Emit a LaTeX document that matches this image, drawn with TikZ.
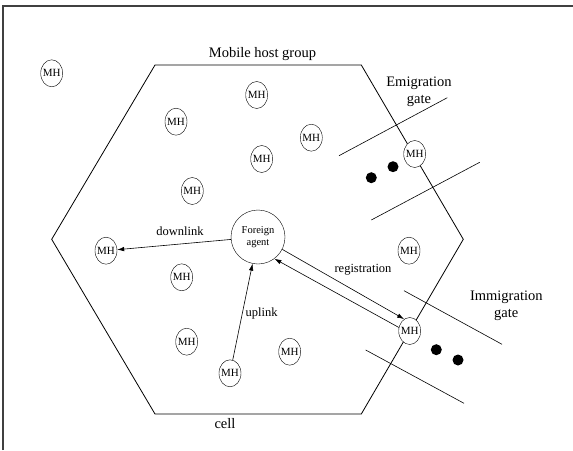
\documentclass[tikz,border=0pt]{standalone}
\usepackage{fontspec}
\setmainfont{Liberation Serif}
\usetikzlibrary{arrows.meta,shapes.geometric}

\tikzset{
	mh/.style={ellipse, draw, fill=white, inner xsep=-1.5pt, inner ysep=0pt, minimum width=22pt, minimum height=27pt, font=\fontsize{11}{11}\selectfont},
	agent/.style={circle, draw, fill=white, minimum size=54pt, inner sep=0pt, align=center, font=\fontsize{10.5}{11.5}\selectfont},
	link/.style={-{Latex[length=7pt,width=4.5pt]}, line width=0.6pt},
	biglabel/.style={font=\fontsize{14.5}{17}\selectfont, align=center},
	linklabel/.style={font=\fontsize{12.5}{14}\selectfont},
	gate/.style={line width=0.6pt}
}

\begin{document}
\begin{tikzpicture}[x=1pt, y=-1pt]
	\useasboundingbox (0,0) rectangle (573,450);
	\draw [line width=1.2pt, black!75] (3,450) -- (3,6) -- (573,6);
	
	\draw [line width=0.8pt] (155,65) -- (361.3,65) -- (463.3,239.3) -- (361.3,414) -- (155,414) -- (51.7,239.3) -- cycle;
	\draw [gate] (339,155.7) -- (447.3,97.7);
	\draw [gate] (371.3,220) -- (479.7,162.3);
	\draw [gate] (404,290.7) -- (502,344.3);
	\draw [gate] (365.7,350) -- (464,403.3);
	
	\fill (371.3,177.7) circle (5.5pt);
	\fill (393,166.7) circle (5.5pt);
	\fill (436.3,349.7) circle (5.5pt);
	\fill (458,360) circle (5.5pt);
	
	\node [biglabel] (group) at (262.5,54) {Mobile host group};
	\node [biglabel] (cell) at (225,424) {cell};
	\node [biglabel] (emigration) at (419,91.5) {Emigration\\gate};
	\node [biglabel] (immigration) at (506.3,306) {Immigration\\gate};
	
	\node [mh] (mh1) at (51.7,73.3) {MH};
	\node [mh] (mh2) at (256.7,95) {MH};
	\node [mh] (mh3) at (176,121.7) {MH};
	\node [mh] (mh4) at (311.3,137.7) {MH};
	\node [mh] (mh5) at (261.7,159) {MH};
	\node [mh] (mh6) at (192.3,191) {MH};
	\node [mh] (mh7) at (409,250.7) {MH};
	\node [mh] (mh8) at (181.7,277.3) {MH};
	\node [mh] (mh9) at (186.7,341.7) {MH};
	\node [mh] (mh10) at (289.7,351.7) {MH};
	\node [mh] (emi) at (414.7,154) {MH};
	\node [mh] (imm) at (409.7,331) {MH};
	\node [mh] (down) at (106,250.7) {MH};
	\node [mh] (up) at (230,373.3) {MH};
	\node [agent] (fa) at (258,237) {Foreign\\agent};
	
	\draw [link] (fa) -- (down);
	\draw [link] (up) -- (fa);
	\draw [link] (fa.-27) -- (imm.115);
	\draw [link] (imm.162) -- (fa.-53);
	
	\node [linklabel] (downlabel) at (180,231.7) {downlink};
	\node [linklabel] (uplabel) at (261.7,313.3) {uplink};
	\node [linklabel] (reglabel) at (363,270) {registration};
\end{tikzpicture}
\end{document}
